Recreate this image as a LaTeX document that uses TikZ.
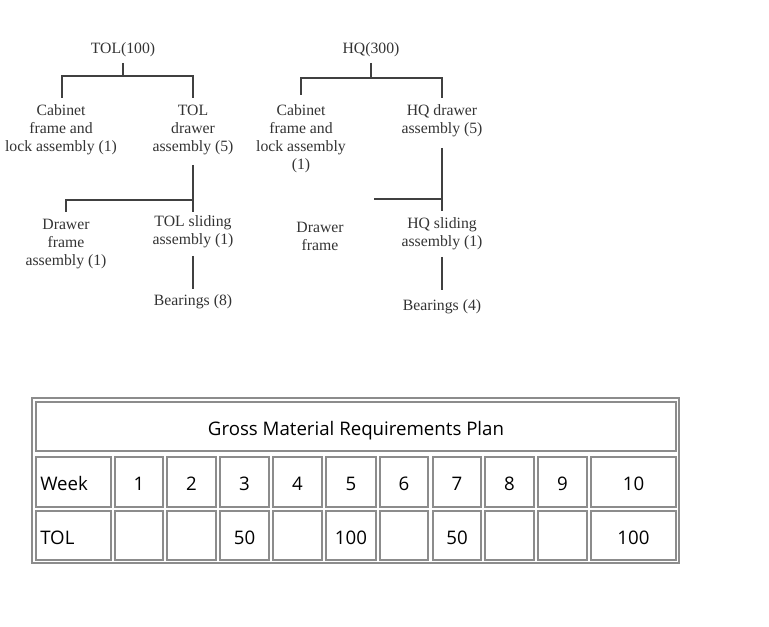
\documentclass[tikz,border=0pt]{standalone}
\usepackage{fontspec}
\setmainfont{Liberation Serif}
\newfontfamily\tabfont{Open Sans}
\begin{document}
\begin{tikzpicture}[x=0.75pt,y=-0.75pt,
  tn/.style={align=center,font=\fontsize{11.8}{13.5}\selectfont,text=black!80,inner sep=0pt},
  ln/.style={draw=black!75,line width=0.9pt},
  cellb/.style={draw=gray!90,line width=1.6pt},
  tt/.style={font=\tabfont\fontsize{14}{15}\selectfont,inner sep=0pt}]
\useasboundingbox (0,0) rectangle (769,627);
% tree 1
\node[tn] (t1) at (123,50) {TOL(100)};
\node[tn] (c1) at (61,130) {Cabinet\\frame and\\lock assembly (1)};
\node[tn] (d1) at (193,130) {TOL\\drawer\\assembly (5)};
\node[tn] (f1) at (66,244) {Drawer\\frame\\assembly (1)};
\node[tn] (s1) at (193,232) {TOL sliding\\assembly (1)};
\node[tn] (b1) at (193,302) {Bearings (8)};
\draw[ln] (123,63) -- (123,76);
\draw[ln] (62,98) -- (62,76) -- (193,76) -- (193,98);
\draw[ln] (193,165) -- (193,212);
\draw[ln] (66,212) -- (66,200) -- (193,200);
\draw[ln] (193,256) -- (193,289);
% tree 2
\node[tn] (t2) at (371,50) {HQ(300)};
\node[tn] (c2) at (301,139) {Cabinet\\frame and\\lock assembly\\(1)};
\node[tn] (d2) at (442,121) {HQ drawer\\assembly (5)};
\node[tn] (f2) at (320,236) {Drawer\\frame};
\node[tn] (s2) at (442,234) {HQ sliding\\assembly (1)};
\node[tn] (b2) at (442,307) {Bearings (4)};
\draw[ln] (371,63) -- (371,78);
\draw[ln] (301,95) -- (301,78) -- (442,78) -- (442,98);
\draw[ln] (442,148) -- (442,211);
\draw[ln] (374,199) -- (442,199);
\draw[ln] (442,257) -- (442,290);
% table
\draw[draw=gray!90,line width=2.2pt] (32,398) rectangle (679,563);
\draw[cellb] (36,402) rectangle (676,451);
\node[tt] (title) at (356,431) {Gross Material Requirements Plan};
\foreach \a/\b/\w/\v [count=\i] in {36/111/Week/, 115/163/1/, 167/216/2/, 220/269/3/50, 273/322/4/, 326/376/5/100, 380/428/6/, 433/481/7/50, 485/534/8/, 538/587/9/, 591/676/10/100}{
  \draw[cellb] (\a,457) rectangle (\b,507);
  \draw[cellb] (\a,511) rectangle (\b,560);
  \ifnum\i=1
    \node[tt,anchor=west] (w\i) at (\a+4,484) {\w};
    \node[tt,anchor=west] (r\i) at (\a+4,538) {TOL};
  \else
    \node[tt] (w\i) at ({(\a+\b)/2},484) {\w};
    \node[tt] (r\i) at ({(\a+\b)/2},538) {\v};
  \fi
}
\end{tikzpicture}
\end{document}
